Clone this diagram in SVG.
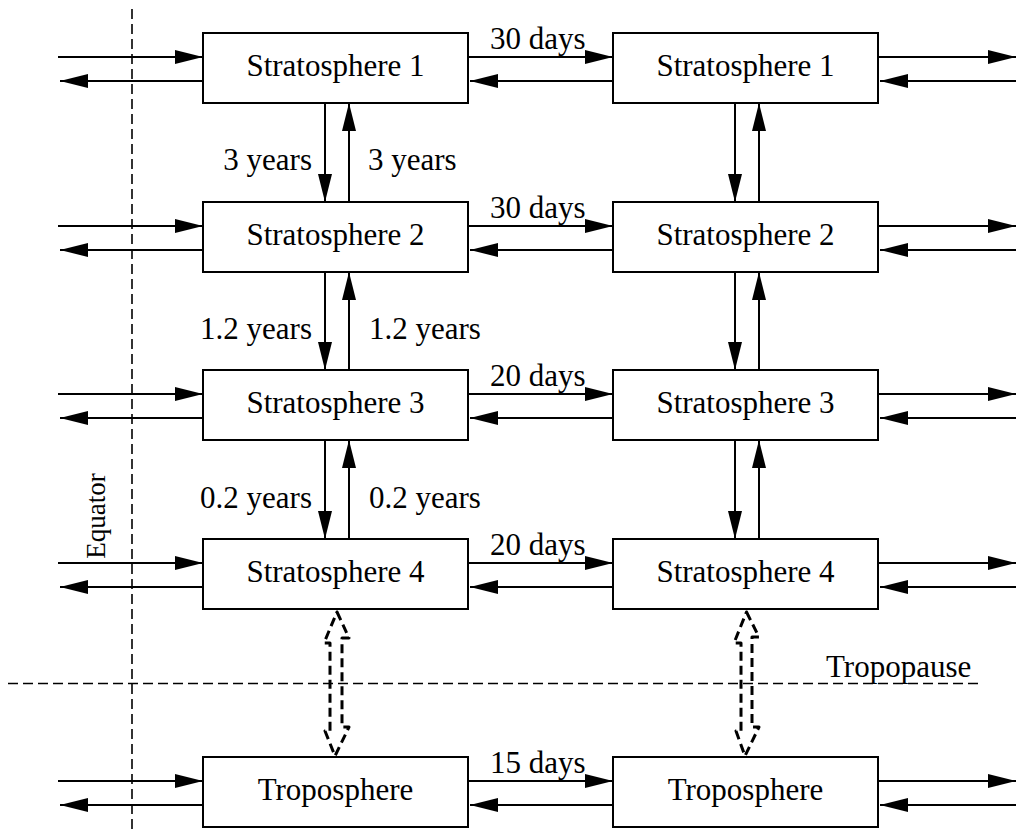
<svg xmlns="http://www.w3.org/2000/svg" width="1016" height="830" viewBox="0 0 1016 830">
<defs>
<marker id="ah" markerUnits="userSpaceOnUse" markerWidth="28" markerHeight="14" refX="28" refY="7" orient="auto">
<path d="M0,0 L28,7 L0,14 z" fill="#000"/>
</marker>
<style>
.box{fill:#fff;stroke:#000;stroke-width:2}
.t{font-family:"Liberation Serif","Times New Roman",serif;font-size:31px;fill:#000}
.c{text-anchor:middle}
.e{text-anchor:end}
.a{stroke:#000;stroke-width:2;fill:none;marker-end:url(#ah)}
.dl{stroke:#000;stroke-width:1.6;fill:none;stroke-dasharray:10 5}
.hd{stroke:#000;stroke-width:3;fill:none;stroke-dasharray:9 5;stroke-linejoin:round}
</style>
</defs>
<rect width="1016" height="830" fill="#fff"/>
<g id="guides">
<line class="dl" x1="132" y1="9" x2="132" y2="830"/>
<line class="dl" x1="8" y1="683.5" x2="978" y2="683.5" stroke-dasharray="13 6"/>
<text class="t" x="826" y="677">Tropopause</text>
<text class="t c" transform="translate(105,516) rotate(-90)" style="font-size:27px">Equator</text>
</g>
<g id="connectors">
<!-- row 1 top 33 -->
<line class="a" x1="58" y1="57" x2="203" y2="57"/>
<line class="a" x1="203" y1="81" x2="60" y2="81"/>
<line class="a" x1="468" y1="57" x2="613" y2="57"/>
<line class="a" x1="613" y1="81" x2="470" y2="81"/>
<line class="a" x1="878" y1="57" x2="1016" y2="57"/>
<line class="a" x1="1016" y1="81" x2="880" y2="81"/>
<!-- row 2 top 202 -->
<line class="a" x1="58" y1="226" x2="203" y2="226"/>
<line class="a" x1="203" y1="250" x2="60" y2="250"/>
<line class="a" x1="468" y1="226" x2="613" y2="226"/>
<line class="a" x1="613" y1="250" x2="470" y2="250"/>
<line class="a" x1="878" y1="226" x2="1016" y2="226"/>
<line class="a" x1="1016" y1="250" x2="880" y2="250"/>
<!-- row 3 top 370 -->
<line class="a" x1="58" y1="394" x2="203" y2="394"/>
<line class="a" x1="203" y1="418" x2="60" y2="418"/>
<line class="a" x1="468" y1="394" x2="613" y2="394"/>
<line class="a" x1="613" y1="418" x2="470" y2="418"/>
<line class="a" x1="878" y1="394" x2="1016" y2="394"/>
<line class="a" x1="1016" y1="418" x2="880" y2="418"/>
<!-- row 4 top 539 -->
<line class="a" x1="58" y1="563" x2="203" y2="563"/>
<line class="a" x1="203" y1="587" x2="60" y2="587"/>
<line class="a" x1="468" y1="563" x2="613" y2="563"/>
<line class="a" x1="613" y1="587" x2="470" y2="587"/>
<line class="a" x1="878" y1="563" x2="1016" y2="563"/>
<line class="a" x1="1016" y1="587" x2="880" y2="587"/>
<!-- troposphere top 757 -->
<line class="a" x1="58" y1="781" x2="203" y2="781"/>
<line class="a" x1="203" y1="805" x2="60" y2="805"/>
<line class="a" x1="468" y1="781" x2="613" y2="781"/>
<line class="a" x1="613" y1="805" x2="470" y2="805"/>
<line class="a" x1="878" y1="781" x2="1016" y2="781"/>
<line class="a" x1="1016" y1="805" x2="880" y2="805"/>
<!-- verticals left -->
<line class="a" x1="325" y1="103" x2="325" y2="202"/>
<line class="a" x1="349" y1="202" x2="349" y2="103"/>
<line class="a" x1="325" y1="272" x2="325" y2="370"/>
<line class="a" x1="349" y1="370" x2="349" y2="272"/>
<line class="a" x1="325" y1="440" x2="325" y2="539"/>
<line class="a" x1="349" y1="539" x2="349" y2="440"/>
<!-- verticals right -->
<line class="a" x1="735" y1="103" x2="735" y2="202"/>
<line class="a" x1="759" y1="202" x2="759" y2="103"/>
<line class="a" x1="735" y1="272" x2="735" y2="370"/>
<line class="a" x1="759" y1="370" x2="759" y2="272"/>
<line class="a" x1="735" y1="440" x2="735" y2="539"/>
<line class="a" x1="759" y1="539" x2="759" y2="440"/>
<!-- hollow dashed double arrows -->
<path class="hd" d="M337,612 L349,638 L342,638 L342,727 L349,727 L335,756 L325,731 L330,731 L330,643 L324,643 Z"/>
<path class="hd" d="M746.5,612 L759,637 L752,637 L752,727 L759,727 L745,756 L736,731 L741,731 L741,643 L734,643 Z"/>
<!-- labels -->
<text class="t" x="490" y="49">30 days</text>
<text class="t" x="490" y="218">30 days</text>
<text class="t" x="490" y="386">20 days</text>
<text class="t" x="490" y="555">20 days</text>
<text class="t" x="490" y="773">15 days</text>
<text class="t e" x="312" y="170">3 years</text>
<text class="t" x="368" y="170">3 years</text>
<text class="t e" x="312" y="339">1.2 years</text>
<text class="t" x="369" y="339">1.2 years</text>
<text class="t e" x="312" y="508">0.2 years</text>
<text class="t" x="369" y="508">0.2 years</text>
</g>
<g id="s1L"><rect class="box" x="203" y="33" width="265" height="70"/><text class="t c" x="335.5" y="76">Stratosphere 1</text></g>
<g id="s1R"><rect class="box" x="613" y="33" width="265" height="70"/><text class="t c" x="745.5" y="76">Stratosphere 1</text></g>
<g id="s2L"><rect class="box" x="203" y="202" width="265" height="70"/><text class="t c" x="335.5" y="245">Stratosphere 2</text></g>
<g id="s2R"><rect class="box" x="613" y="202" width="265" height="70"/><text class="t c" x="745.5" y="245">Stratosphere 2</text></g>
<g id="s3L"><rect class="box" x="203" y="370" width="265" height="70"/><text class="t c" x="335.5" y="413">Stratosphere 3</text></g>
<g id="s3R"><rect class="box" x="613" y="370" width="265" height="70"/><text class="t c" x="745.5" y="413">Stratosphere 3</text></g>
<g id="s4L"><rect class="box" x="203" y="539" width="265" height="70"/><text class="t c" x="335.5" y="582">Stratosphere 4</text></g>
<g id="s4R"><rect class="box" x="613" y="539" width="265" height="70"/><text class="t c" x="745.5" y="582">Stratosphere 4</text></g>
<g id="tL"><rect class="box" x="203" y="757" width="265" height="70"/><text class="t c" x="335.5" y="800">Troposphere</text></g>
<g id="tR"><rect class="box" x="613" y="757" width="265" height="70"/><text class="t c" x="745.5" y="800">Troposphere</text></g>
</svg>
